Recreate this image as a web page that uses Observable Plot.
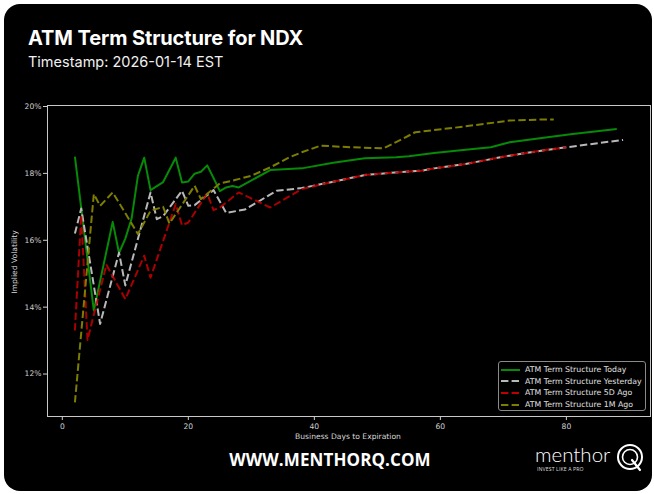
<!DOCTYPE html>
<html>
<head>
<meta charset="utf-8">
<script src="https://cdn.jsdelivr.net/npm/d3@7"></script>
<script src="https://cdn.jsdelivr.net/npm/@observablehq/plot@0.6"></script>
<style>
html, body { margin: 0; padding: 0; background: #ffffff; width: 654px; height: 494px; overflow: hidden; }
#card { position: absolute; left: 4px; top: 4px; width: 648px; height: 487px; background: #000; border-radius: 16px; }
#title { position: absolute; left: 28px; top: 26px; font: 700 20px/24px Inter, Roboto, sans-serif; color: #fff; letter-spacing: -0.1px; }
#subtitle { position: absolute; left: 28px; top: 53px; font: 400 14.5px/18px Inter, Roboto, sans-serif; color: #f0f0f0; }
#chart { position: absolute; left: 0; top: 95px; }
.axlabel { position: absolute; font: 7.6px/10px "DejaVu Sans", sans-serif; color: #d8d8d8; white-space: nowrap; }
#ylabel { left: 15px; top: 262px; transform: translate(-50%, -50%) rotate(-90deg); }
#xlabel { left: 348px; top: 437px; transform: translate(-50%, -50%); }
#legend { position: absolute; left: 498px; top: 361px; width: 148px; height: 50px; border: 1px solid #8a8a8a; border-radius: 3px; background: #000; box-sizing: border-box; }
.lrow { position: absolute; left: 2px; height: 11px; display: flex; align-items: center; font: 7.8px/11px "DejaVu Sans", sans-serif; color: #e0e0e0; white-space: nowrap; }
.lrow svg { margin-right: 5px; }
#site { position: absolute; left: 330px; top: 460px; transform: translate(-50%, -50%); font: 700 17px/22px "Open Sans", "Noto Sans", sans-serif; color: #fff; letter-spacing: 0.1px; white-space: nowrap; }
#logo { position: absolute; left: 535px; top: 442px; width: 112px; height: 36px; }
#logotext { position: absolute; left: 0; top: 3px; font: 300 20.5px/19px Lato, "Open Sans", sans-serif; color: #fff; }
#tag { position: absolute; left: 2px; top: 24px; font: 400 5.2px/6px "Open Sans", sans-serif; color: #ddd; letter-spacing: 0.1px; white-space: nowrap; }
</style>
</head>
<body>
<div id="card"></div>
<div id="title">ATM Term Structure for NDX</div>
<div id="subtitle">Timestamp: 2026-01-14 EST</div>
<div id="chart"></div>
<div id="ylabel" class="axlabel">Implied Volatility</div>
<div id="xlabel" class="axlabel">Business Days to Expiration</div>
<div id="legend"></div>
<div id="site">WWW.MENTHORQ.COM</div>
<div id="logo">
  <div id="logotext">menthor</div>
  <div id="tag">INVEST LIKE A PRO</div>
  <svg style="position:absolute;left:81px;top:1px" width="30" height="30" viewBox="0 0 30 30">
    <circle cx="14" cy="14" r="12" fill="none" stroke="#fff" stroke-width="2"/>
    <circle cx="14" cy="14" r="7.5" fill="none" stroke="#fff" stroke-width="1.6"/>
    <line x1="16" y1="17" x2="24" y2="27" stroke="#fff" stroke-width="2.2" stroke-linecap="round"/>
  </svg>
</div>
<script>
// ---- data ----
const seriesNames = [
  "ATM Term Structure Today",
  "ATM Term Structure Yesterday",
  "ATM Term Structure 5D Ago",
  "ATM Term Structure 1M Ago"
];
const seriesColors = ["#078a07", "#b8b8b8", "#c00000", "#7d7d00"];
const seriesDash = ["none", "7.4,3.2", "7.4,3.2", "7.4,3.2"];

const xTicks = [0, 20, 40, 60, 80];
const yTicks = [12, 14, 16, 18, 20];

const todayDays = [2, 5, 8, 9, 10, 11, 12, 13, 14, 16, 18, 19, 20, 21, 22, 23, 24, 25, 26, 27, 28, 33, 38, 43, 48, 53, 55, 59, 64, 68, 71, 77, 81, 88];
const todayIV   = [18.5, 13.9, 16.55, 15.62, 16.05, 16.65, 17.93, 18.47, 17.5, 17.74, 18.47, 17.73, 17.76, 17.99, 18.05, 18.24, 17.86, 17.47, 17.58, 17.62, 17.58, 18.1, 18.15, 18.32, 18.45, 18.48, 18.51, 18.61, 18.71, 18.78, 18.93, 19.08, 19.18, 19.33];

const yestDays = [2, 3, 6, 9, 10, 14, 15, 16, 19, 20, 21, 24, 26, 29, 34, 38, 43, 48, 51, 57, 59, 64, 70, 76, 82, 89];
const yestIV   = [16.2, 16.95, 13.5, 15.63, 14.65, 17.43, 16.63, 16.72, 17.48, 17.03, 17.05, 17.5, 16.82, 16.92, 17.48, 17.56, 17.75, 17.95, 18.0, 18.08, 18.15, 18.28, 18.5, 18.68, 18.83, 19.0];

const d5Days = [2, 3, 4, 7, 10, 13, 14, 18, 19, 20, 23, 24, 25, 28, 33, 38, 43, 48, 51, 57, 59, 64, 70, 76, 80];
const d5IV   = [13.3, 16.75, 13.02, 15.27, 14.24, 15.54, 14.88, 17.08, 16.45, 16.53, 17.4, 16.9, 16.98, 17.43, 16.98, 17.53, 17.75, 17.95, 18.0, 18.08, 18.15, 18.28, 18.5, 18.68, 18.78];

const m1Days = [2, 5, 6, 8, 12, 14, 16, 17, 21, 22, 25, 27, 30, 33, 36, 38, 41, 46, 51, 54, 56, 62, 67, 71, 76, 78];
const m1IV   = [11.15, 17.38, 17.03, 17.43, 16.19, 16.88, 17.0, 16.5, 17.63, 17.23, 17.7, 17.78, 17.93, 18.18, 18.48, 18.63, 18.83, 18.78, 18.75, 19.03, 19.23, 19.36, 19.48, 19.58, 19.61, 19.61];

// ---- build table ----
const seriesData = [[todayDays, todayIV], [yestDays, yestIV], [d5Days, d5IV], [m1Days, m1IV]];
const rows = [];
seriesData.forEach(([days, ivs], i) => {
  days.forEach((d, j) => rows.push({ series: seriesNames[i], day: d, iv: ivs[j] }));
});

const chart = Plot.plot({
  width: 654,
  height: 360,
  marginLeft: 47,
  marginRight: 4,
  marginTop: 10,
  marginBottom: 39,
  style: { background: "transparent", color: "#d0d0d0", fontFamily: "'DejaVu Sans', sans-serif", fontSize: "7.6px", overflow: "visible" },
  x: { domain: [-2.35, 93.35], ticks: xTicks, tickSize: 4, tickPadding: 3, label: null },
  y: { domain: [10.73, 20.03], ticks: yTicks, tickFormat: d => d + "%", tickSize: 4, tickPadding: 2, label: null },
  marks: [
    ...seriesNames.map((name, i) =>
      Plot.line(rows.filter(r => r.series === name), {
        x: "day", y: "iv",
        stroke: seriesColors[i],
        strokeWidth: 2,
        strokeOpacity: i === 2 ? 0.88 : 1,
        strokeDasharray: seriesDash[i] === "none" ? undefined : seriesDash[i],
        strokeLinejoin: "round",
        strokeLinecap: "butt",
        curve: "linear"
      })
    ),
    Plot.frame({ stroke: "#c8c8c8", strokeWidth: 1 })
  ]
});
document.getElementById("chart").appendChild(chart);

// ---- legend ----
const legend = document.getElementById("legend");
seriesNames.forEach((name, i) => {
  const row = document.createElement("div");
  row.className = "lrow";
  row.style.top = (2 + i * 11.7) + "px";
  const dash = seriesDash[i] === "none" ? "" : `stroke-dasharray="${seriesDash[i]}"`;
  row.innerHTML = `<svg width="19" height="4"><line x1="0" y1="2" x2="19" y2="2" stroke="${seriesColors[i]}" stroke-width="2" ${dash}/></svg><span>${name}</span>`;
  legend.appendChild(row);
});
</script>
</body>
</html>
